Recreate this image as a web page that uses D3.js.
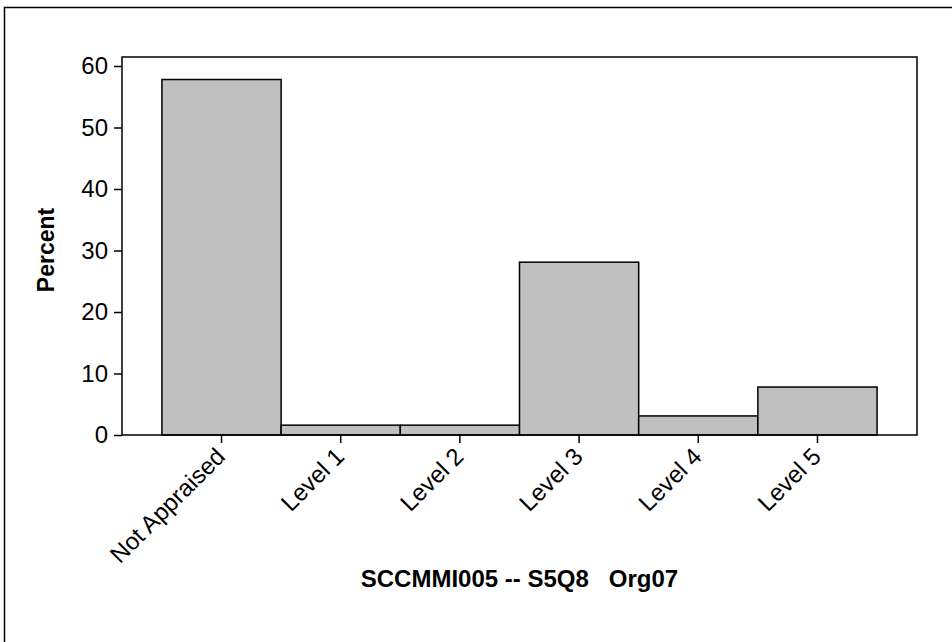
<!DOCTYPE html>
<html lang="en">
<head>
<meta charset="utf-8">
<title>SCCMMI005 -- S5Q8 Org07</title>
<script src="https://cdn.jsdelivr.net/npm/d3@7"></script>
<style>
  body { margin: 0; background: #fff; }
  text { font-family: "Liberation Sans", Arial, sans-serif; fill: #000; }
</style>
</head>
<body>
<svg id="chart"></svg>
<script>
// chart data
const categories = ["Not Appraised", "Level 1", "Level 2", "Level 3", "Level 4", "Level 5"];
const percents = [57.8, 1.6, 1.6, 28.1, 3.1, 7.8];
const yTicks = [0, 10, 20, 30, 40, 50, 60];
const xTitle = "SCCMMI005 -- S5Q8\u00a0\u00a0\u00a0Org07";
const yTitle = "Percent";

const width = 952, height = 642;
const plot = { left: 122, right: 917, top: 57, bottom: 435 };

const svg = d3.select("#chart")
    .attr("width", width)
    .attr("height", height);

// outer frame
svg.append("rect")
    .attr("x", 4.5).attr("y", 7.5)
    .attr("width", 960).attr("height", 660)
    .attr("fill", "none")
    .attr("stroke", "#000")
    .attr("stroke-width", 1.5);

const x = d3.scaleBand()
    .domain(categories)
    .range([plot.left, plot.right])
    .paddingInner(0)
    .paddingOuter(0.335);

const y = d3.scaleLinear()
    .domain([0, 60])
    .range([plot.bottom, plot.bottom - 6 * 61.5]);

// bars
svg.append("g").selectAll("rect")
    .data(categories)
    .enter()
    .append("rect")
    .attr("x", d => x(d))
    .attr("y", (d, i) => y(percents[i]))
    .attr("width", x.bandwidth())
    .attr("height", (d, i) => y(0) - y(percents[i]))
    .attr("fill", "#c0c0c0")
    .attr("stroke", "#000")
    .attr("stroke-width", 1.5);

// plot frame
svg.append("rect")
    .attr("x", plot.left).attr("y", plot.top)
    .attr("width", plot.right - plot.left)
    .attr("height", plot.bottom - plot.top)
    .attr("fill", "none")
    .attr("stroke", "#000")
    .attr("stroke-width", 1.5);

// y axis
const yAxis = svg.append("g")
    .attr("transform", `translate(${plot.left},0)`)
    .call(d3.axisLeft(y).tickValues(yTicks).tickSize(8).tickPadding(6));
yAxis.select(".domain").remove();
yAxis.selectAll(".tick line").attr("stroke", "#000").attr("stroke-width", 1.5);
yAxis.selectAll(".tick text")
    .style("font-family", "Liberation Sans, Arial, sans-serif")
    .style("font-size", "24px")
    .attr("fill", "#000");

// x axis
const xAxis = svg.append("g")
    .attr("transform", `translate(0,${plot.bottom})`)
    .call(d3.axisBottom(x).tickSize(8).tickPadding(4));
xAxis.select(".domain").remove();
xAxis.selectAll(".tick line").attr("stroke", "#000").attr("stroke-width", 1.5);
xAxis.selectAll(".tick text")
    .style("font-family", "Liberation Sans, Arial, sans-serif")
    .style("font-size", "24px")
    .attr("fill", "#000")
    .attr("text-anchor", "end")
    .attr("y", 0)
    .attr("dy", "0")
    .attr("transform", "translate(5,23) rotate(-45)");

// axis titles
svg.append("text")
    .attr("x", (plot.left + plot.right) / 2)
    .attr("y", 587)
    .attr("text-anchor", "middle")
    .style("font-size", "24px")
    .style("font-weight", "bold")
    .text(xTitle);

svg.append("text")
    .attr("transform", `translate(54,250) rotate(-90)`)
    .attr("text-anchor", "middle")
    .style("font-size", "23px")
    .style("font-weight", "bold")
    .text(yTitle);
</script>
</body>
</html>
